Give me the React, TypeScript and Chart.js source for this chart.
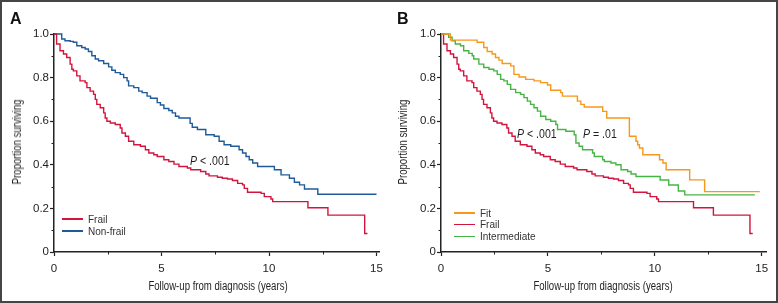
import React, { useEffect, useRef } from 'react';
import { Chart, registerables } from 'chart.js';

Chart.register(...registerables);

// ---------- data ----------
const frailT = [0, 0.12, 0.28, 0.44, 0.59, 0.75, 0.83, 0.90, 1.06, 1.21, 1.45, 1.53, 1.68, 1.84, 1.92, 1.99, 2.15, 2.31, 2.38, 2.46, 2.62, 2.85, 3.08, 3.16, 3.32, 3.47, 3.71, 4.02, 4.25, 4.41, 4.64, 4.80, 5.11, 5.34, 5.58, 5.81, 6.20, 6.36, 6.82, 7.06, 7.21, 7.60, 7.83, 8.07, 8.30, 8.54, 8.77, 8.85, 9.00, 9.63, 9.78, 10.09, 10.17, 11.81, 12.74, 14.45, 14.58];
const frailS = [1, 0.954, 0.923, 0.908, 0.892, 0.862, 0.838, 0.831, 0.808, 0.785, 0.777, 0.754, 0.738, 0.723, 0.700, 0.677, 0.662, 0.638, 0.615, 0.600, 0.592, 0.585, 0.569, 0.546, 0.531, 0.508, 0.492, 0.485, 0.469, 0.454, 0.446, 0.438, 0.423, 0.415, 0.403, 0.392, 0.385, 0.377, 0.369, 0.358, 0.349, 0.343, 0.338, 0.335, 0.328, 0.315, 0.308, 0.292, 0.274, 0.269, 0.254, 0.243, 0.231, 0.203, 0.169, 0.085, 0.085];

const nonFrailT = [0, 0.36, 0.51, 0.75, 0.90, 1.06, 1.29, 1.45, 1.60, 1.76, 1.92, 2.07, 2.31, 2.54, 2.69, 2.85, 3.08, 3.24, 3.40, 3.47, 3.71, 3.94, 4.10, 4.33, 4.49, 4.80, 4.95, 5.11, 5.34, 5.50, 5.65, 5.81, 6.33, 6.43, 6.67, 7.06, 7.45, 7.68, 7.91, 8.22, 8.61, 8.77, 8.93, 9.08, 9.24, 9.47, 10.25, 10.56, 10.95, 11.18, 11.42, 11.65, 12.27, 15.0];
const nonFrailS = [1, 0.977, 0.969, 0.966, 0.962, 0.946, 0.938, 0.931, 0.920, 0.900, 0.885, 0.877, 0.865, 0.849, 0.834, 0.823, 0.815, 0.800, 0.785, 0.762, 0.754, 0.738, 0.731, 0.715, 0.705, 0.685, 0.674, 0.658, 0.649, 0.638, 0.623, 0.615, 0.590, 0.572, 0.562, 0.538, 0.531, 0.508, 0.492, 0.485, 0.469, 0.454, 0.438, 0.423, 0.408, 0.392, 0.377, 0.354, 0.338, 0.320, 0.308, 0.289, 0.265, 0.265];

const fitT = [0, 0.44, 1.69, 2.00, 2.16, 2.39, 2.55, 2.71, 2.86, 3.26, 3.41, 3.65, 3.96, 4.35, 4.66, 4.98, 5.13, 5.60, 5.68, 6.38, 6.54, 6.70, 7.56, 7.75, 8.81, 9.12, 9.20, 9.28, 9.44, 10.22, 10.38, 10.53, 11.63, 12.33, 14.91];
const fitS = [1, 0.972, 0.962, 0.938, 0.920, 0.908, 0.892, 0.880, 0.865, 0.854, 0.815, 0.803, 0.792, 0.785, 0.777, 0.766, 0.742, 0.731, 0.715, 0.692, 0.677, 0.665, 0.645, 0.615, 0.531, 0.508, 0.492, 0.477, 0.446, 0.423, 0.408, 0.377, 0.331, 0.277, 0.277];

const intermediateT = [0, 0.36, 0.52, 0.67, 0.91, 1.06, 1.30, 1.46, 1.53, 1.77, 2.00, 2.24, 2.47, 2.63, 2.79, 2.94, 3.10, 3.26, 3.49, 3.72, 3.88, 4.04, 4.19, 4.35, 4.51, 4.66, 4.90, 5.13, 5.37, 5.45, 5.84, 6.23, 6.31, 6.46, 6.62, 7.09, 7.17, 7.56, 7.64, 7.95, 8.18, 8.42, 8.73, 8.89, 9.12, 10.25, 10.65, 11.10, 11.40, 14.68];
const intermediateS = [1, 0.985, 0.969, 0.954, 0.946, 0.923, 0.911, 0.900, 0.885, 0.862, 0.846, 0.838, 0.831, 0.815, 0.792, 0.785, 0.769, 0.746, 0.731, 0.723, 0.708, 0.692, 0.677, 0.662, 0.646, 0.623, 0.608, 0.600, 0.585, 0.562, 0.554, 0.538, 0.500, 0.485, 0.469, 0.454, 0.438, 0.423, 0.415, 0.408, 0.400, 0.377, 0.369, 0.358, 0.346, 0.330, 0.307, 0.280, 0.262, 0.262];

const xTickValues = [0, 2.5, 5, 7.5, 10, 12.5, 15];
const xTickLabels = ['0', '', '5', '', '10', '', '15'];
const yTickValues = [0, 0.1, 0.2, 0.3, 0.4, 0.5, 0.6, 0.7, 0.8, 0.9, 1];
const yTickLabels = ['0', '', '0.2', '', '0.4', '', '0.6', '', '0.8', '', '1.0'];

const yTitle = 'Proportion surviving';
const xTitle = 'Follow-up from diagnosis (years)';

const RED = '#d2153c';
const BLUE = '#1f5b98';
const ORANGE = '#f7981d';
const GREEN = '#47b545';
const AXIS = '#222222';
const TEXT = '#1e1e1e';
const SANS = '"Liberation Sans", Arial, sans-serif';

type Series = { label: string; t: number[]; s: number[]; color: string };

const panelASeries: Series[] = [
  { label: 'Frail', t: frailT, s: frailS, color: RED },
  { label: 'Non-frail', t: nonFrailT, s: nonFrailS, color: BLUE },
];
const panelBSeries: Series[] = [
  { label: 'Fit', t: fitT, s: fitS, color: ORANGE },
  { label: 'Frail', t: frailT, s: frailS, color: RED },
  { label: 'Intermediate', t: intermediateT, s: intermediateS, color: GREEN },
];

// minor ticks (shorter) drawn through the chart's own scales
const minorTicks = {
  id: 'minorTicks',
  afterDraw(chart: any) {
    const { ctx, scales } = chart;
    const xs = scales.x;
    const ys = scales.y;
    ctx.save();
    ctx.strokeStyle = AXIS;
    ctx.lineWidth = 1;
    xTickValues.forEach((v, i) => {
      if (xTickLabels[i] !== '') return;
      const px = Math.round(xs.getPixelForValue(v)) + 0.5;
      ctx.beginPath();
      ctx.moveTo(px, ys.bottom);
      ctx.lineTo(px, ys.bottom + 2.5);
      ctx.stroke();
    });
    yTickValues.forEach((v, i) => {
      if (yTickLabels[i] !== '') return;
      const py = Math.round(ys.getPixelForValue(v)) + 0.5;
      ctx.beginPath();
      ctx.moveTo(xs.left, py);
      ctx.lineTo(xs.left - 2.5, py);
      ctx.stroke();
    });
    ctx.restore();
  },
};

type KMProps = {
  series: Series[];
  left: number;
  width: number;
  height: number;
  padLeft: number;
  padRight: number;
  padTop: number;
  yAxisWidth: number;
  xAxisHeight: number;
  xMax: number;
};

function KMChart(props: KMProps) {
  const ref = useRef<HTMLCanvasElement | null>(null);
  useEffect(() => {
    if (!ref.current) return;
    const p = props;
    const chart = new Chart(ref.current, {
      type: 'line',
      data: {
        datasets: p.series.map((s) => ({
          label: s.label,
          data: s.t.map((t, i) => ({ x: t, y: s.s[i] })),
          borderColor: s.color,
          backgroundColor: s.color,
          borderWidth: 1.4,
          pointRadius: 0,
          stepped: 'before' as const,
          fill: false,
          clip: false as any,
        })),
      },
      options: {
        animation: false,
        responsive: false,
        maintainAspectRatio: false,
        layout: { padding: { left: p.padLeft, right: p.padRight, top: p.padTop, bottom: 0 } },
        plugins: { legend: { display: false }, tooltip: { enabled: false } },
        scales: {
          x: {
            type: 'linear',
            min: 0,
            max: p.xMax,
            afterBuildTicks: (scale: any) => {
              scale.ticks = xTickValues.map((v) => ({ value: v }));
            },
            afterFit: (scale: any) => {
              scale.height = p.xAxisHeight;
            },
            ticks: {
              autoSkip: false,
              maxRotation: 0,
              padding: 6,
              color: TEXT,
              font: { family: SANS, size: 11.5 },
              callback: (_v: any, i: number) => xTickLabels[i],
            },
            grid: {
              drawOnChartArea: false,
              drawTicks: true,
              tickLength: 4,
              tickWidth: 1.2,
              tickColor: (c: any) => (xTickLabels[c.index] === '' ? 'rgba(0,0,0,0)' : AXIS),
            },
            border: { display: true, color: AXIS, width: 1.5 },
            title: { display: false },
          },
          y: {
            type: 'linear',
            min: 0,
            max: 1,
            afterBuildTicks: (scale: any) => {
              scale.ticks = yTickValues.map((v) => ({ value: v }));
            },
            afterFit: (scale: any) => {
              scale.width = p.yAxisWidth;
            },
            ticks: {
              autoSkip: false,
              padding: 1,
              color: TEXT,
              font: { family: SANS, size: 11.5 },
              callback: (_v: any, i: number) => yTickLabels[i],
            },
            grid: {
              drawOnChartArea: false,
              drawTicks: true,
              tickLength: 4,
              tickWidth: 1.2,
              tickColor: (c: any) => (yTickLabels[c.index] === '' ? 'rgba(0,0,0,0)' : AXIS),
            },
            border: { display: true, color: AXIS, width: 1.5 },
            title: { display: false },
          },
        },
      },
      plugins: [minorTicks],
    });
    return () => chart.destroy();
  }, []);
  return (
    <canvas
      ref={ref}
      width={props.width}
      height={props.height}
      style={{ position: 'absolute', left: props.left, top: 0, width: props.width, height: props.height }}
    />
  );
}

// condensed text (no narrow font installed, so the regular face is squeezed horizontally)
function Condensed({ cx, cy, rotate, size, children }: { cx: number; cy: number; rotate?: boolean; size: number; children: any }) {
  return (
    <div
      style={{
        position: 'absolute',
        left: cx,
        top: cy,
        transform: `translate(-50%, -50%)${rotate ? ' rotate(-90deg)' : ''} scaleX(0.8)`,
        fontFamily: SANS,
        fontSize: size,
        lineHeight: `${size + 2}px`,
        color: TEXT,
        whiteSpace: 'nowrap',
      }}
    >
      {children}
    </div>
  );
}

function Legend({ items, left, top, gap }: { items: Series[]; left: number; top: number; gap: number }) {
  return (
    <>
      {items.map((s, i) => (
        <div
          key={s.label + i}
          style={{
            position: 'absolute',
            left,
            top: top + i * gap - 6,
            height: 12,
            display: 'flex',
            alignItems: 'center',
            fontFamily: SANS,
            fontSize: 10,
            color: '#333',
            whiteSpace: 'nowrap',
          }}
        >
          <span style={{ display: 'inline-block', width: 21, height: 1.5, background: s.color, marginRight: 5 }} />
          <span>{s.label}</span>
        </div>
      ))}
    </>
  );
}

function PLabel({ left, cy, rest }: { left: number; cy: number; rest: string }) {
  return (
    <div
      style={{
        position: 'absolute',
        left,
        top: cy - 7,
        height: 14,
        lineHeight: '14px',
        fontFamily: SANS,
        fontSize: 12,
        color: TEXT,
        whiteSpace: 'nowrap',
        transform: 'scaleX(0.88)',
        transformOrigin: 'left center',
      }}
    >
      <i>P</i>
      {rest}
    </div>
  );
}

export default function App() {
  return (
    <div style={{ position: 'absolute', left: 0, top: 0, width: 778, height: 303, background: '#fff', overflow: 'hidden' }}>
      <KMChart series={panelASeries} left={0} width={389} height={303} padLeft={10} padRight={9} padTop={34} yAxisWidth={44} xAxisHeight={51} xMax={15.15} />
      <KMChart series={panelBSeries} left={389} width={389} height={303} padLeft={7} padRight={12} padTop={34} yAxisWidth={45} xAxisHeight={51} xMax={15.2} />
      <div style={{ position: 'absolute', left: 10, top: 11, fontFamily: SANS, fontWeight: 'bold', fontSize: 16, lineHeight: '16px', color: '#111' }}>A</div>
      <div style={{ position: 'absolute', left: 397, top: 11, fontFamily: SANS, fontWeight: 'bold', fontSize: 16, lineHeight: '16px', color: '#111' }}>B</div>
      <Condensed cx={17} cy={142} rotate size={12}>{yTitle}</Condensed>
      <Condensed cx={403} cy={142} rotate size={12}>{yTitle}</Condensed>
      <Condensed cx={217.5} cy={286} size={12}>{xTitle}</Condensed>
      <Condensed cx={603} cy={286} size={12}>{xTitle}</Condensed>
      <Legend items={panelASeries} left={62} top={219} gap={12} />
      <Legend items={panelBSeries} left={454} top={213} gap={11.7} />
      <PLabel left={190} cy={161} rest=" < .001" />
      <PLabel left={517} cy={134} rest=" < .001" />
      <PLabel left={583} cy={134} rest=" = .01" />
      <div style={{ position: 'absolute', left: 0, top: 0, width: 778, height: 303, boxSizing: 'border-box', border: '2px solid #454545', pointerEvents: 'none' }} />
    </div>
  );
}
